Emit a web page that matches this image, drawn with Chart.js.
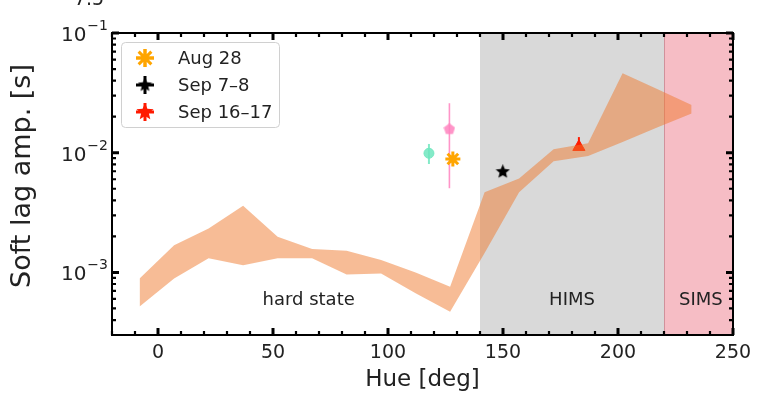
<!DOCTYPE html>
<html>
<head>
<meta charset="utf-8">
<script src="https://cdn.jsdelivr.net/npm/chart.js@4.4.1/dist/chart.umd.min.js"></script>
<style>
  html, body { margin: 0; padding: 0; background: #fff; }
</style>
</head>
<body>
<canvas id="lagChart" width="759" height="394"></canvas>
<script>
// soft lag amplitude band vs hue (15 deg bins)
const hueBins = [-8, 7, 22, 37, 52, 67, 82, 97, 112, 127, 142, 157, 172, 187, 202, 217, 232];
const lagLow  = [5.2e-4, 8.9e-4, 1.31e-3, 1.15e-3, 1.31e-3, 1.31e-3, 9.6e-4, 9.8e-4, 6.7e-4, 4.7e-4, 1.45e-3, 4.67e-3, 8.5e-3, 9.4e-3, 1.23e-2, 1.62e-2, 2.13e-2];
const lagHigh = [8.9e-4, 1.69e-3, 2.33e-3, 3.6e-3, 1.99e-3, 1.57e-3, 1.52e-3, 1.27e-3, 1.0e-3, 7.6e-4, 4.67e-3, 6.1e-3, 1.07e-2, 1.2e-2, 4.6e-2, 3.4e-2, 2.5e-2];

// individual observations
const obsLabels = ['Aug 28', 'Sep 7–8', 'Sep 16–17', '', ''];
const obsHue    = [128.2, 149.9, 183.0, 126.7, 117.8];
const obsLag    = [0.00886, 0.00694, 0.01117, 0.01569, 0.00989];
const obsErrLo  = [0.0083, 0.0067, 0.0108, 0.00505, 0.00805];
const obsErrHi  = [0.0095, 0.0072, 0.0135, 0.0259, 0.01183];

// state regions
const regionNames  = ['hard state', 'HIMS', 'SIMS'];
const regionLabelX = [65.5, 180, 236];
const regionLabelY = 5.8e-4;
const regionSpans  = [[140, 220], [220, 250]];

const xTicks = [0, 50, 100, 150, 200, 250];
const yTicks = [1e-3, 1e-2, 1e-1];

function starImage(size, color, points) {
  const c = document.createElement('canvas');
  c.width = c.height = size;
  const g = c.getContext('2d');
  const r = size / 2, ri = r * 0.45;
  g.beginPath();
  for (let i = 0; i < points * 2; i++) {
    const a = -Math.PI / 2 + i * Math.PI / points;
    const rr = i % 2 ? ri : r;
    g.lineTo(r + rr * Math.cos(a), r + rr * Math.sin(a));
  }
  g.closePath();
  g.fillStyle = color;
  g.fill();
  return c;
}
function pentagonImage(size, color) {
  const c = document.createElement('canvas');
  c.width = c.height = size;
  const g = c.getContext('2d');
  const r = size / 2;
  g.beginPath();
  for (let i = 0; i < 5; i++) {
    const a = -Math.PI / 2 + i * 2 * Math.PI / 5;
    g.lineTo(r + r * Math.cos(a), r + r * Math.sin(a));
  }
  g.closePath();
  g.fillStyle = color;
  g.fill();
  return c;
}

const obsColors = ['#ffa500', '#000000', '#ff1a00', 'rgba(255,130,190,0.85)', 'rgba(110,230,190,0.85)'];
const obsStyles = ['star', starImage(15, '#000', 5), 'triangle', pentagonImage(12, 'rgba(255,130,190,0.85)'), 'circle'];
const obsRadius = [7.5, 7, 7, 6, 5];

const obsDatasets = obsHue.map((h, i) => ({
  type: 'scatter',
  label: obsLabels[i],
  data: [{ x: h, y: obsLag[i] }],
  pointStyle: obsStyles[i],
  pointRadius: obsRadius[i],
  pointBorderWidth: i === 0 ? 3 : 1,
  pointBackgroundColor: obsColors[i],
  pointBorderColor: obsColors[i],
  errLo: obsErrLo[i],
  errHi: obsErrHi[i],
  order: 2
}));

const bandColor = 'rgba(240,122,45,0.5)';
const textColor = '#222';

const regionPlugin = {
  id: 'regions',
  beforeDatasetsDraw(chart) {
    const { ctx, chartArea: a, scales: { x, y } } = chart;
    ctx.save();
    ctx.fillStyle = '#d9d9d9';
    ctx.fillRect(x.getPixelForValue(regionSpans[0][0]), a.top, x.getPixelForValue(regionSpans[0][1]) - x.getPixelForValue(regionSpans[0][0]), a.height);
    ctx.fillStyle = '#f6bdc5';
    ctx.fillRect(x.getPixelForValue(regionSpans[1][0]), a.top, x.getPixelForValue(regionSpans[1][1]) - x.getPixelForValue(regionSpans[1][0]), a.height);
    ctx.strokeStyle = 'rgba(205,140,150,0.9)';
    ctx.lineWidth = 1;
    const bx = Math.round(x.getPixelForValue(regionSpans[1][0])) + 0.5;
    ctx.beginPath(); ctx.moveTo(bx, a.top); ctx.lineTo(bx, a.bottom); ctx.stroke();

    ctx.fillStyle = textColor;
    ctx.font = '18px "DejaVu Sans"';
    ctx.textAlign = 'center';
    ctx.textBaseline = 'middle';
    regionNames.forEach((n, i) => ctx.fillText(n, x.getPixelForValue(regionLabelX[i]), y.getPixelForValue(regionLabelY)));

    // error bars
    chart.data.datasets.forEach((ds, i) => {
      if (ds.errLo === undefined) return;
      const px = x.getPixelForValue(ds.data[0].x);
      ctx.lineWidth = i === 3 ? 1.6 : 2;
      ctx.strokeStyle = ds.pointBorderColor;
      ctx.beginPath();
      ctx.moveTo(px, y.getPixelForValue(ds.errLo));
      ctx.lineTo(px, y.getPixelForValue(ds.errHi));
      ctx.stroke();
    });
    ctx.restore();
  }
};

const frameTickPlugin = {
  id: 'frameTicks',
  afterDraw(chart) {
    const { ctx, chartArea: a, scales: { x, y } } = chart;
    ctx.save();
    ctx.strokeStyle = '#000';
    ctx.lineCap = 'butt';
    // x ticks, top and bottom
    for (let v = -20; v <= 250; v += 10) {
      const px = x.getPixelForValue(v);
      const major = xTicks.includes(v);
      const len = major ? 7 : 4;
      ctx.lineWidth = major ? 3 : 2.2;
      ctx.beginPath();
      ctx.moveTo(px, a.bottom); ctx.lineTo(px, a.bottom - len);
      ctx.moveTo(px, a.top); ctx.lineTo(px, a.top + len);
      ctx.stroke();
    }
    // y ticks, left and right
    for (let e = -4; e <= -1; e++) {
      for (let m = 1; m <= 9; m++) {
        const v = m * Math.pow(10, e);
        if (v < y.min * 0.999 || v > y.max * 1.001) continue;
        const py = y.getPixelForValue(v);
        const major = m === 1;
        const len = major ? 7 : 4;
        ctx.lineWidth = major ? 3 : 2.2;
        ctx.beginPath();
        ctx.moveTo(a.left, py); ctx.lineTo(a.left + len, py);
        ctx.moveTo(a.right, py); ctx.lineTo(a.right - len, py);
        ctx.stroke();
      }
    }
    ctx.lineWidth = 2;
    ctx.strokeRect(a.left, a.top, a.width, a.height);

    // y tick labels with superscript exponent
    ctx.fillStyle = textColor;
    ctx.textBaseline = 'alphabetic';
    yTicks.forEach(v => {
      const py = y.getPixelForValue(v);
      const exp = '−' + Math.round(-Math.log10(v));
      ctx.font = '14px "DejaVu Sans"';
      const ew = ctx.measureText(exp).width;
      const right = a.left - 4;
      ctx.textAlign = 'right';
      ctx.fillText(exp, right, py - 3);
      ctx.font = '20px "DejaVu Sans"';
      ctx.fillText('10', right - ew - 1, py + 8);
    });
    // offset text partly off the top edge
    ctx.font = '19px "DejaVu Sans"';
    ctx.textAlign = 'center';
    ctx.fillText('7.5', 89, 5);

    // y axis title
    ctx.save();
    ctx.translate(23, 176);
    ctx.rotate(-Math.PI / 2);
    ctx.font = '27px "DejaVu Sans"';
    ctx.textBaseline = 'middle';
    ctx.fillText('Soft lag amp. [s]', 0, 0);
    ctx.restore();

    // legend
    const lx = 121, ly = 42, lw = 158, lh = 85;
    ctx.fillStyle = 'rgba(255,255,255,0.85)';
    ctx.strokeStyle = '#d0d0d0';
    ctx.lineWidth = 1;
    ctx.beginPath();
    ctx.roundRect(lx + 0.5, ly + 0.5, lw, lh, 4);
    ctx.fill(); ctx.stroke();
    ctx.font = '18px "DejaVu Sans"';
    ctx.textAlign = 'left';
    ctx.textBaseline = 'middle';
    for (let i = 0; i < 3; i++) {
      const ds = chart.data.datasets[i];
      const cy = ly + 16 + i * 27, cx = 145;
      ctx.strokeStyle = ds.pointBorderColor;
      ctx.lineWidth = 3;
      ctx.beginPath();
      ctx.moveTo(cx - 9, cy); ctx.lineTo(cx + 9, cy);
      ctx.moveTo(cx, cy - 9); ctx.lineTo(cx, cy + 9);
      ctx.stroke();
      const style = i === 2 ? starImage(18, '#ff1a00', 5) : ds.pointStyle;
      Chart.helpers.drawPoint(ctx, {
        pointStyle: style, radius: i === 0 ? 9 : ds.pointRadius, borderWidth: i === 0 ? 2.5 : ds.pointBorderWidth, rotation: 0
      }, cx, cy);
      ctx.fillStyle = textColor;
      ctx.fillText(ds.label, 178, cy + 1);
    }
    ctx.restore();
  }
};

new Chart(document.getElementById('lagChart'), {
  type: 'line',
  data: {
    datasets: [
      ...obsDatasets,
      {
        label: 'low',
        data: hueBins.map((h, i) => ({ x: h, y: lagLow[i] })),
        borderWidth: 0, pointRadius: 0, fill: false, order: 1
      },
      {
        label: 'high',
        data: hueBins.map((h, i) => ({ x: h, y: lagHigh[i] })),
        borderWidth: 0, pointRadius: 0, backgroundColor: bandColor,
        fill: '-1', order: 1
      }
    ]
  },
  options: {
    responsive: false,
    devicePixelRatio: 1,
    animation: false,
    layout: { padding: { left: 0, top: 33, right: 26, bottom: 0 } },
    plugins: { legend: { display: false }, tooltip: { enabled: false } },
    scales: {
      x: {
        type: 'linear', min: -20, max: 250,
        afterBuildTicks: s => { s.ticks = xTicks.map(v => ({ value: v })); },
        afterFit: s => { s.height = 59; },
        grid: { display: false, drawTicks: false },
        border: { display: false },
        ticks: { color: textColor, font: { family: 'DejaVu Sans', size: 19 }, padding: 7, maxRotation: 0 },
        title: { display: true, text: 'Hue [deg]', color: textColor, font: { family: 'DejaVu Sans', size: 23 }, padding: { top: 0, bottom: 0 } }
      },
      y: {
        type: 'logarithmic', min: 3e-4, max: 0.1,
        afterBuildTicks: s => { s.ticks = yTicks.map(v => ({ value: v })); },
        afterFit: s => { s.width = 112; },
        grid: { display: false, drawTicks: false },
        border: { display: false },
        ticks: { display: false }
      }
    }
  },
  plugins: [regionPlugin, frameTickPlugin]
});
</script>
</body>
</html>
